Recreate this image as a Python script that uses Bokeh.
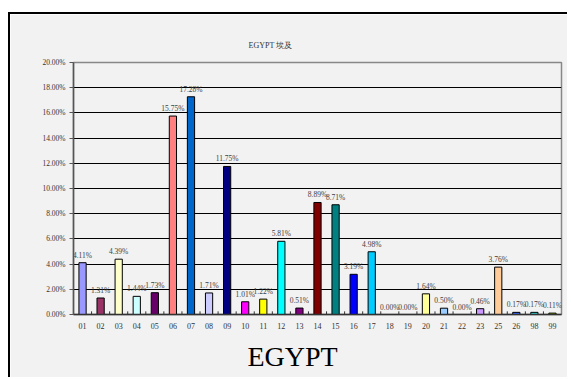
from bokeh.plotting import figure
from bokeh.models import FactorRange, Range1d, ColumnDataSource, PrintfTickFormatter, FixedTicker, Title
from bokeh.core.properties import value
from bokeh.embed import file_html
from bokeh.resources import INLINE

categories = ["01", "02", "03", "04", "05", "06", "07", "08", "09", "10", "11", "12", "13",
              "14", "15", "16", "17", "18", "19", "20", "21", "22", "23", "25", "26", "98", "99"]
shares = [4.11, 1.31, 4.39, 1.44, 1.73, 15.75, 17.28, 1.71, 11.75, 1.01, 1.22, 5.81, 0.51,
          8.89, 8.71, 3.19, 4.98, 0.00, 0.00, 1.64, 0.50, 0.00, 0.46, 3.76, 0.17, 0.17, 0.11]
bar_colors = ["#9999FF", "#993366", "#FFFFCC", "#CCFFFF", "#660066", "#FF8080", "#0066CC",
              "#CCCCFF", "#000080", "#FF00FF", "#FFFF00", "#00FFFF", "#800080", "#800000",
              "#008080", "#0000FF", "#00CCFF", "#CCFFFF", "#CCFFCC", "#FFFF99", "#99CCFF",
              "#FF99CC", "#CC99FF", "#FFCC99", "#3366FF", "#33CCCC", "#99CC00"]
y_ticks = [0, 2, 4, 6, 8, 10, 12, 14, 16, 18, 20]
title_text = "EGYPT 埃及"
caption_text = "EGYPT"

SERIF = "Liberation Serif"
BG = "#f2f2f2"

labels = ["%.2f%%" % v for v in shares]
src = ColumnDataSource(dict(cat=categories, share=shares, color=bar_colors, label=labels,
                            tick_x=[(c, -0.5) for c in categories],
                            zero=[0] * len(categories), tick_top=[0.25] * len(categories)))

p = figure(width=559, height=365, output_backend="svg", toolbar_location=None,
           x_range=FactorRange(factors=categories, range_padding=0),
           y_range=Range1d(0, 20),
           min_border_left=63, min_border_right=8, min_border_top=48, min_border_bottom=65,
           background_fill_color=BG, border_fill_color=BG,
           styles={"margin-top": "12px", "margin-left": "8px",
                   "border-left": "2px solid black", "border-top": "2px solid black"})

p.outline_line_color = "#888888"
p.outline_line_width = 1.5

p.xgrid.grid_line_color = None
p.ygrid.grid_line_color = "black"
p.ygrid.grid_line_width = 1
p.ygrid.ticker = FixedTicker(ticks=y_ticks[1:-1])

p.yaxis.ticker = FixedTicker(ticks=y_ticks)
p.yaxis.formatter = PrintfTickFormatter(format="%.2f%%")
p.yaxis.axis_line_color = "#555555"
p.yaxis.axis_line_width = 1.5
p.yaxis.major_tick_line_color = "#555555"
p.yaxis.major_tick_out = 4
p.yaxis.major_tick_in = 0
p.yaxis.minor_tick_line_color = None
p.yaxis.major_label_text_font = SERIF
p.yaxis.major_label_text_font_size = "7.5px"
p.yaxis.major_label_text_color = "#333333"
p.yaxis.major_label_standoff = 4

p.xaxis.axis_line_color = "#333333"
p.xaxis.axis_line_width = 1.5
p.xaxis.major_tick_line_color = None
p.xaxis.major_tick_out = 0
p.xaxis.major_tick_in = 0
p.xaxis.major_label_text_font = SERIF
p.xaxis.major_label_text_font_size = "8px"
p.xaxis.major_label_text_color = "#333333"
p.xaxis.major_label_standoff = 8

p.vbar(x="cat", top="share", width=0.4, fill_color="color", line_color="black",
       line_width=1, source=src)

p.segment(x0="tick_x", y0="zero", x1="tick_x", y1="tick_top", line_color="#333333",
          line_width=1, source=src)

p.text(x="cat", y="share", text="label", source=src, text_align="center",
       text_baseline="bottom", y_offset=-3, text_font=value(SERIF),
       text_font_size="7.5px", text_color="#404040")

p.add_layout(Title(text=title_text, align="left", offset=175, vertical_align="top",
                   standoff=22, text_font=SERIF, text_font_size="8px",
                   text_font_style="normal", text_color="#333333"), "above")
p.add_layout(Title(text=caption_text, align="left", offset=174, standoff=15,
                   text_font=SERIF, text_font_size="28px", text_font_style="normal",
                   text_color="black"), "below")

open("out.html", "w").write(file_html(p, INLINE))
